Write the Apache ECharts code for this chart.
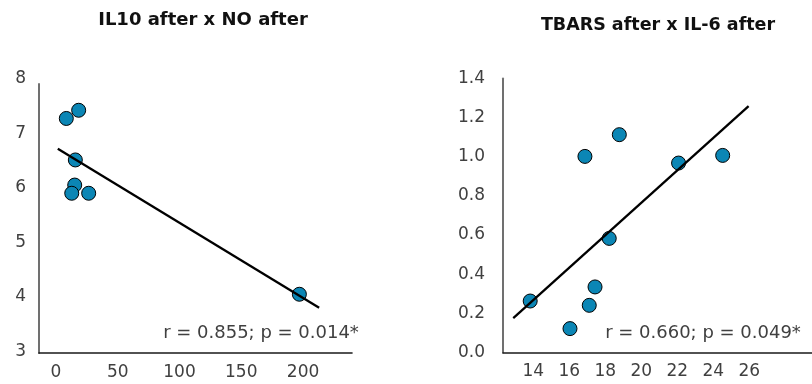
<!DOCTYPE html>
<html>
<head>
<meta charset="utf-8">
<script src="https://cdn.jsdelivr.net/npm/echarts@6/dist/echarts.min.js"></script>
<style>html,body{margin:0;padding:0;background:#fff}#c{width:812px;height:384px}</style>
</head>
<body>
<div id="c"></div>
<script>
// Left panel: IL10 after (y) x NO after (x)
var leftTitle = 'IL10 after x NO after';
var leftX = [8.4, 18.4, 15.7, 15.2, 12.8, 26.5, 197];
var leftY = [7.27, 7.42, 6.51, 6.05, 5.90, 5.90, 4.05];
var leftXTicks = [0, 50, 100, 150, 200];
var leftYTicks = [3, 4, 5, 6, 7, 8];
var leftTrendRange = [1.5, 213];
var leftStat = 'r = 0.855; p = 0.014*';

// Right panel: TBARS after (y) x IL-6 after (x)
var rightTitle = 'TBARS after x IL-6 after';
var rightX = [13.83, 16.04, 16.87, 17.11, 17.43, 18.22, 18.78, 22.07, 24.52];
var rightY = [0.263, 0.122, 1.002, 0.241, 0.335, 0.583, 1.113, 0.968, 1.007];
var rightXTicks = [14, 16, 18, 20, 22, 24, 26];
var rightYTicks = [0, 0.2, 0.4, 0.6, 0.8, 1.0, 1.2, 1.4];
var rightTrendRange = [12.89, 25.96];
var rightStat = 'r = 0.660; p = 0.049*';

function regression(xs, ys) {
  var n = xs.length, mx = 0, my = 0;
  for (var i = 0; i < n; i++) { mx += xs[i]; my += ys[i]; }
  mx /= n; my /= n;
  var sxy = 0, sxx = 0;
  for (var j = 0; j < n; j++) { sxy += (xs[j] - mx) * (ys[j] - my); sxx += (xs[j] - mx) * (xs[j] - mx); }
  var b = sxy / sxx, a = my - b * mx;
  return function (x) { return a + b * x; };
}
function pairs(xs, ys) { return xs.map(function (x, i) { return [x, ys[i]]; }); }
function trend(xs, ys, range) { var f = regression(xs, ys); return range.map(function (x) { return [x, f(x)]; }); }

var FONT = 'DejaVu Sans';
var TXT = '#404040';
var YAX = '#707070';
var XAX = '#1a1a1a';
var MARK = '#0b86b5';

function lbl(ticks, margin, fmt, pad) {
  return { show: true, customValues: ticks, color: TXT, fontFamily: FONT, fontSize: 17,
    margin: margin, formatter: fmt, padding: pad || 0 };
}
function axis(gi, min, max, lineColor, lineWidth, label, showLine) {
  return {
    type: 'value', gridIndex: gi, min: min, max: max,
    splitLine: { show: false },
    axisTick: { show: false },
    axisLine: { show: showLine !== false, lineStyle: { color: lineColor, width: lineWidth } },
    axisLabel: label
  };
}
function str(v) { return String(v); }
function fix1(v) { return v.toFixed(1); }

var chart = echarts.init(document.getElementById('c'), null, { renderer: 'canvas' });
chart.setOption({
  animation: false,
  backgroundColor: '#ffffff',
  grid: [
    { left: 39, right: 460, top: 78.6, bottom: 31 },
    { left: 39, right: 460, top: 84, bottom: 31 },
    { left: 503, right: 0, top: 78.5, bottom: 31.5 }
  ],
  xAxis: [
    axis(0, -13.7, 239.6, XAX, 1.6, lbl(leftXTicks, 11, str)),
    { type: 'value', gridIndex: 1, show: false, min: 0, max: 1 },
    axis(2, 12.32, 29.48, XAX, 1.6, lbl(rightXTicks, 11, str))
  ],
  yAxis: [
    axis(0, 2.974, 8, YAX, 2, lbl(leftYTicks, 13, str, [5, 0, 0, 0]), false),
    { type: 'value', gridIndex: 1, min: 0, max: 1, splitLine: { show: false }, axisTick: { show: false }, axisLabel: { show: false },
      axisLine: { show: true, lineStyle: { color: YAX, width: 2 } } },
    axis(2, 0, 1.4, YAX, 2, lbl(rightYTicks, 18, fix1, [4, 0, 0, 0]))
  ],
  series: [
    { type: 'scatter', xAxisIndex: 0, yAxisIndex: 0, data: pairs(leftX, leftY), symbolSize: 14,
      itemStyle: { color: MARK, borderColor: '#000', borderWidth: 1, opacity: 1 }, z: 2 },
    { type: 'line', xAxisIndex: 0, yAxisIndex: 0, data: trend(leftX, leftY, leftTrendRange), symbol: 'none',
      lineStyle: { color: '#000', width: 2.3 }, z: 3 },
    { type: 'scatter', xAxisIndex: 2, yAxisIndex: 2, data: pairs(rightX, rightY), symbolSize: 14,
      itemStyle: { color: MARK, borderColor: '#000', borderWidth: 1, opacity: 1 }, z: 2 },
    { type: 'line', xAxisIndex: 2, yAxisIndex: 2, data: trend(rightX, rightY, rightTrendRange), symbol: 'none',
      lineStyle: { color: '#000', width: 2.3 }, z: 3 }
  ],
  graphic: [
    { type: 'text', x: 203, y: 20, style: { text: leftTitle, align: 'center', verticalAlign: 'middle', fill: '#111', font: 'bold 18px "DejaVu Sans"' } },
    { type: 'text', x: 658, y: 25, style: { text: rightTitle, align: 'center', verticalAlign: 'middle', fill: '#111', font: 'bold 17.5px "DejaVu Sans"' } },
    { type: 'text', x: 261, y: 333, style: { text: leftStat, align: 'center', verticalAlign: 'middle', fill: TXT, font: '18px "DejaVu Sans"' } },
    { type: 'text', x: 703, y: 333, style: { text: rightStat, align: 'center', verticalAlign: 'middle', fill: TXT, font: '18px "DejaVu Sans"' } }
  ]
});
</script>
</body>
</html>
